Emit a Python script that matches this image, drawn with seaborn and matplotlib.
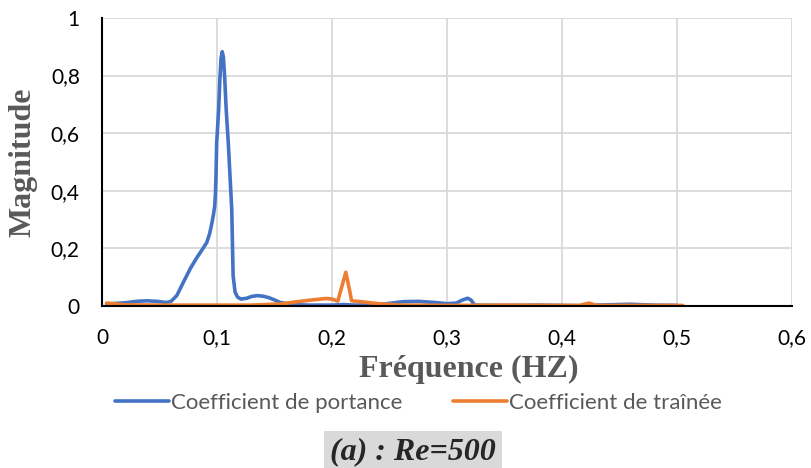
import numpy as np
import pandas as pd
import seaborn as sns
import matplotlib.pyplot as plt

# Lift coefficient spectrum
freq_portance = [0.004, 0.02, 0.03, 0.039, 0.048, 0.056, 0.06, 0.065, 0.0707, 0.0765,
                 0.082, 0.087, 0.091, 0.0935, 0.0954, 0.0968, 0.098, 0.0986, 0.0991,
                 0.0997, 0.1014, 0.1025, 0.1035, 0.1045, 0.1055, 0.1067, 0.108, 0.1098,
                 0.1113, 0.1128, 0.1135, 0.114, 0.1157, 0.118, 0.121, 0.126, 0.13,
                 0.135, 0.14, 0.145, 0.15, 0.155, 0.165, 0.18, 0.2, 0.21, 0.22, 0.24,
                 0.25, 0.262, 0.275, 0.29, 0.3, 0.308, 0.313, 0.318, 0.321, 0.324,
                 0.34, 0.36, 0.38, 0.4, 0.415, 0.422, 0.43, 0.459, 0.48, 0.5]
mag_portance = [0.007, 0.011, 0.016, 0.018, 0.016, 0.012, 0.016, 0.036, 0.082, 0.128,
                0.165, 0.195, 0.22, 0.25, 0.285, 0.315, 0.347, 0.39, 0.45,
                0.566, 0.68, 0.79, 0.86, 0.883, 0.865, 0.79, 0.68, 0.566,
                0.45, 0.336, 0.2, 0.105, 0.048, 0.03, 0.024, 0.027, 0.033,
                0.036, 0.034, 0.029, 0.021, 0.012, 0.005, 0.003, 0.003, 0.005, 0.003, 0.005,
                0.009, 0.015, 0.016, 0.012, 0.008, 0.01, 0.02, 0.027, 0.02, 0.003,
                0.002, 0.002, 0.003, 0.002, 0.001, 0.0, 0.003, 0.006, 0.003, 0.002]

# Drag coefficient spectrum
freq_trainee = [0.004, 0.02, 0.05, 0.1, 0.13, 0.155, 0.17, 0.185, 0.195, 0.2, 0.205,
                0.208, 0.212, 0.215, 0.217, 0.225, 0.24, 0.26, 0.3, 0.35, 0.4,
                0.415, 0.4235, 0.43, 0.46, 0.505]
mag_trainee = [0.01, 0.004, 0.003, 0.003, 0.003, 0.007, 0.015, 0.022, 0.026, 0.024, 0.017,
               0.06, 0.117, 0.06, 0.018, 0.015, 0.008, 0.003, 0.002, 0.003, 0.002,
               0.002, 0.01, 0.002, 0.002, 0.002]

x_ticks = [0, 0.1, 0.2, 0.3, 0.4, 0.5, 0.6]
y_ticks = [0, 0.2, 0.4, 0.6, 0.8, 1.0]

sns.set_theme(style="whitegrid")
plt.rcParams['font.family'] = ['Lato', 'DejaVu Sans']

fig = plt.figure(figsize=(8.11, 4.68), dpi=100)
ax = fig.add_axes([0.1258, 0.3462, 0.8508, 0.6154])

df_p = pd.DataFrame({"f": freq_portance, "m": mag_portance})
df_t = pd.DataFrame({"f": freq_trainee, "m": mag_trainee})
sns.lineplot(data=df_p, x="f", y="m", ax=ax, color="#4472C4", linewidth=2.6,
             sort=False, estimator=None, label="Coefficient de portance")
sns.lineplot(data=df_t, x="f", y="m", ax=ax, color="#ED7D31", linewidth=2.6,
             sort=False, estimator=None, label="Coefficient de traînée")
for ln in ax.lines:
    ln.set_solid_joinstyle("round")
    ln.set_solid_capstyle("round")

ax.set_xlim(0, 0.6)
ax.set_ylim(0, 1)
ax.set_xticks(x_ticks)
ax.set_yticks(y_ticks)
fmt = lambda v: ("%g" % v).replace(".", ",")
ax.set_xticklabels([fmt(v) for v in x_ticks], fontsize=15, color="#000000")
ax.set_yticklabels([fmt(v) for v in y_ticks], fontsize=15, color="#000000")
ax.tick_params(axis="both", length=0, pad=16)

ax.grid(True, color="#d9d9d9", linewidth=1.3)
for s in ["top", "right"]:
    ax.spines[s].set_visible(False)
for s in ["left", "bottom"]:
    ax.spines[s].set_visible(True)
    ax.spines[s].set_color("#000000")
    ax.spines[s].set_linewidth(1.5)

ax.set_xlabel("Fréquence (HZ)", fontsize=23, fontweight="bold", color="#595959",
              family="Liberation Serif")
ax.xaxis.set_label_coords(0.532, -0.2465)
ax.xaxis.label.set_va("baseline")
ax.set_ylabel("Magnitude", fontsize=23, fontweight="bold", color="#595959",
              family="Liberation Serif")
ax.yaxis.set_label_coords(-0.1145, 0.5)
ax.yaxis.label.set_va("center")

leg = ax.legend(loc="center", bbox_to_anchor=(0.4587, -0.337), ncol=2, frameon=False,
                fontsize=16, handlelength=2.4, handletextpad=0.1, columnspacing=2.3)
for t in leg.get_texts():
    t.set_color("#595959")

fig.text(0.509, 0.034, "(a) : Re=500", ha="center", va="center", fontsize=23,
         fontweight="bold", fontstyle="italic", family="Liberation Serif",
         bbox=dict(boxstyle="square,pad=0.2", facecolor="#d9d9d9", edgecolor="none"))

fig.savefig("out.png", dpi=100)
